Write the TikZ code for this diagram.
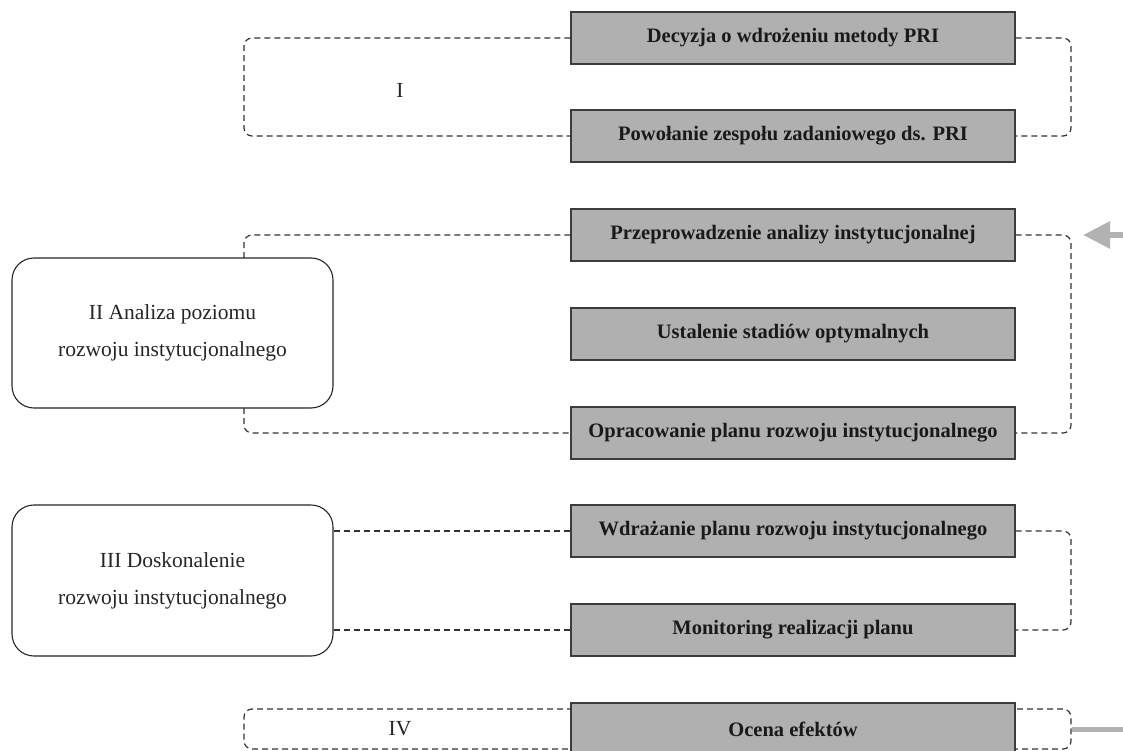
\documentclass[tikz,border=0pt]{standalone}
\usepackage{fontspec}
\setmainfont{Liberation Serif}
\usetikzlibrary{arrows.meta}
\definecolor{boxgray}{RGB}{176,176,176}
\definecolor{linegray}{RGB}{60,60,60}
\definecolor{arrgray}{RGB}{178,178,178}
\begin{document}
\begin{tikzpicture}[x=1pt,y=-1pt,
  stepbox/.style={draw=linegray, line width=1.2pt, fill=boxgray, minimum width=444pt, minimum height=52pt, inner sep=0pt, font=\fontsize{20.5}{24}\selectfont\bfseries, text=black!90},
  phasebox/.style={draw=black!85, line width=1.1pt, rounded corners=22pt, fill=white, minimum width=321pt, minimum height=150pt, inner sep=0pt, align=center, font=\fontsize{21.5}{37}\selectfont, text=black!85},
  dsh/.style={draw=black!80, line width=1.2pt, dash pattern=on 6pt off 4pt, rounded corners=8pt},
  lbl/.style={font=\fontsize{21.5}{24}\selectfont, text=black!85}
]
\useasboundingbox (0,0) rectangle (1123,751);
% coordinates
\coordinate (cIL) at (244,87);
\coordinate (cIR) at (1071,87);
\coordinate (cIIR) at (1071,334);
\coordinate (cIIIR) at (1071,580);
\coordinate (c2top) at (244,258);
\coordinate (c2bot) at (244,408);
\coordinate (arrS) at (1123,235);
\coordinate (arrE) at (1083,235);
\coordinate (lnE) at (1123,729);
% phase IV frame (behind)
\node[dsh, minimum width=827pt, minimum height=40pt, inner sep=0pt] (fIV) at (657.5,729) {};
% step boxes
\node[stepbox] (b1) at (793,38) {Decyzja o wdrożeniu metody PRI};
\node[stepbox] (b2) at (793,136) {Powołanie zespołu zadaniowego ds. PRI};
\node[stepbox] (b3) at (793,235) {Przeprowadzenie analizy instytucjonalnej};
\node[stepbox] (b4) at (793,334) {Ustalenie stadiów optymalnych};
\node[stepbox] (b5) at (793,433) {Opracowanie planu rozwoju instytucjonalnego};
\node[stepbox] (b6) at (793,531) {Wdrażanie planu rozwoju instytucjonalnego};
\node[stepbox] (b7) at (793,630) {Monitoring realizacji planu};
\node[stepbox] (b8) at (793,729) {Ocena efektów};
% phase boxes
\node[phasebox] (pII) at (172.5,333) {II Analiza poziomu\\rozwoju instytucjonalnego};
\node[phasebox, minimum height=151pt] (pIII) at (172.5,580.5) {III Doskonalenie\\rozwoju instytucjonalnego};
% labels
\node[lbl] (lI) at (400,90) {I};
\node[lbl] (lIV) at (400,729) {IV};
% phase I brackets
\draw[dsh] (b1.west) -| (cIL) |- (b2.west);
\draw[dsh] (b1.east) -| (cIR) |- (b2.east);
% phase II
\draw[dsh] (b3.west) -| (c2top);
\draw[dsh] (c2bot) |- (b5.west);
\draw[dsh] (b3.east) -| (cIIR) |- (b5.east);
% phase III
\draw[dsh] (pIII.east |- b6.west) -- (b6.west);
\draw[dsh] (pIII.east |- b7.west) -- (b7.west);
\draw[dsh] (b6.east) -| (cIIIR) |- (b7.east);
% gray arrow and line
\draw[arrgray, line width=6pt, -{Triangle[length=27pt,width=26pt]}] (arrS) -- (arrE);
\draw[arrgray, line width=5pt] (fIV.east) -- (lnE);
\end{tikzpicture}
\end{document}
